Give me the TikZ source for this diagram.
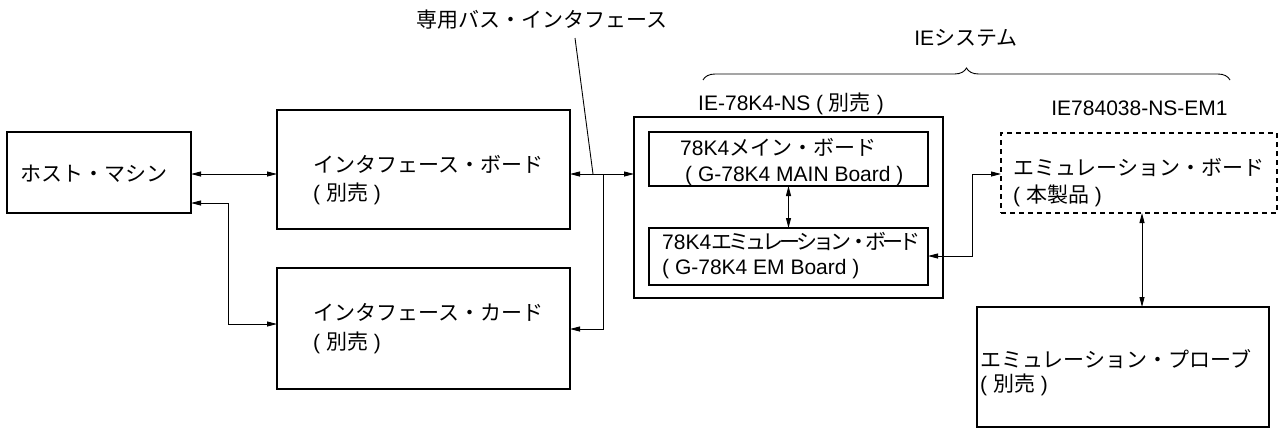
\documentclass[tikz,border=0pt]{standalone}
\usepackage{fontspec}
\setmainfont{Liberation Sans}
\newfontfamily\jpfont{Noto Sans CJK JP}
\newfontfamily\jpnarrow[LetterSpace=-18]{Noto Sans CJK JP}
\newcommand\J[1]{{\jpfont #1}}
\newcommand\JN[1]{{\jpnarrow #1}}
\usetikzlibrary{arrows.meta,decorations.pathreplacing}
\begin{document}
\begin{tikzpicture}[x=1pt,y=-1pt,
  box/.style={draw,line width=2.2pt,inner sep=0pt,outer sep=0pt},
  dbox/.style={draw,line width=2.2pt,inner sep=0pt,outer sep=0pt,dash pattern=on 5pt off 4pt},
  txt/.style={inner sep=0pt,anchor=west,text height=17pt,text depth=2pt,font=\fontsize{21}{25}\selectfont},
  ctxt/.style={inner sep=0pt,anchor=center,text height=17pt,text depth=2pt,font=\fontsize{21}{25}\selectfont},
  conn/.style={line width=0.9pt,{Triangle[length=10pt,width=5pt]}-{Triangle[length=10pt,width=5pt]}},
  conne/.style={line width=0.9pt,-{Triangle[length=10pt,width=5pt]}},
  thin/.style={line width=0.9pt}]
\useasboundingbox (0,0) rectangle (1283,429);
% boxes
\node[box,minimum width=184pt,minimum height=81pt] (host) at (99,172.5) {};
\node[box,minimum width=293pt,minimum height=119pt] (board) at (423.5,169.5) {};
\node[box,minimum width=293pt,minimum height=121pt] (card) at (423.5,328.5) {};
\node[box,minimum width=309pt,minimum height=181pt] (outer) at (788.5,207.5) {};
\node[box,minimum width=279pt,minimum height=54pt] (main) at (788.5,159) {};
\node[box,minimum width=279pt,minimum height=57pt] (em) at (788.5,256.5) {};
\node[dbox,minimum width=276pt,minimum height=80pt] (dash) at (1139,173) {};
\node[box,minimum width=292pt,minimum height=120pt] (probe) at (1123,367) {};
% texts in boxes
\node[txt] (t-host) at (20,174) {\J{ホスト・マシン}};
\node[txt] (t-board1) at (313,165) {\J{インタフェース・ボード}};
\node[txt] (t-board2) at (313,193) {( \J{別売} )};
\node[txt] (t-card1) at (313,313) {\J{インタフェース・カード}};
\node[txt] (t-card2) at (313,342) {( \J{別売} )};
\node[txt] (t-main1) at (680,148) {78K4\J{メイン・ボード}};
\node[txt] (t-main2) at (685,174) {( G-78K4 MAIN Board )};
\node[txt] (t-em1) at (662,242) {78K4\JN{エミュレーション・ボード}};
\node[txt] (t-em2) at (662,267) {( G-78K4 EM Board )};
\node[txt] (t-dash1) at (1013,168) {\J{エミュレーション・ボード}};
\node[txt] (t-dash2) at (1013,195) {( \J{本製品} )};
\node[txt] (t-probe1) at (980,360) {\J{エミュレーション・プローブ}};
\node[txt] (t-probe2) at (980,384) {( \J{別売} )};
% labels
\node[ctxt] (bus) at (542,20) {\J{専用バス・インタフェース}};
\node[ctxt] (iesys) at (966,38) {IE\J{システム}};
\node[ctxt] (nslabel) at (791,103) {IE-78K4-NS ( \J{別売} )};
\node[ctxt] (emlabel) at (1139.5,108) {IE784038-NS-EM1};
% brace
\draw[line width=0.9pt,decorate,decoration={brace,amplitude=12pt,aspect=0.5}] (703,80) -- (1230,80);
% connectors
\coordinate (j) at (603,174);
\coordinate (lt) at (575,38);
\coordinate (lb) at (593,174);
\draw[conn] (host.east |- 0,174) -- (board.west |- 0,174);
\draw[conn] (host.east |- 0,203) -- (228,203) -- (228,324) -- (card.west |- 0,324);
\draw[conn] (board.east |- j) -- (outer.west |- j);
\draw[conne] (j) -- (603,329) -- (card.east |- 0,329);
\draw[thin] (lt) -- (lb);
\draw[conn] (main.south) -- (em.north);
\draw[conn] (em.east |- 0,256) -- (972,256) -- (972,174) -- (dash.west |- 0,174);
\draw[conn] (dash.south -| 1142,0) -- (probe.north -| 1142,0);
\end{tikzpicture}
\end{document}
